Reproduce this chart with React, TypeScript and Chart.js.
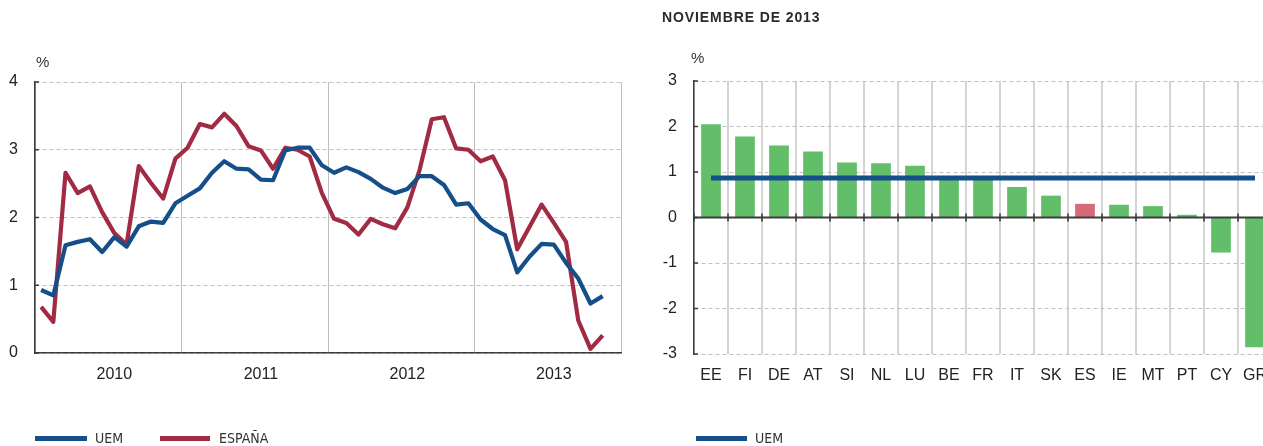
import React, { useEffect, useRef } from 'react';
import { Chart, registerables } from 'chart.js';

Chart.register(...registerables);

// ---- Data (left panel: monthly, Jan 2010 – Nov 2013) ----
const years = ['2010', '2011', '2012', '2013'];
const uem = [
  0.93, 0.85, 1.59, 1.64, 1.68, 1.49, 1.71, 1.57, 1.87, 1.94, 1.92, 2.21,
  2.32, 2.43, 2.66, 2.83, 2.72, 2.71, 2.56, 2.55, 2.99, 3.03, 3.03, 2.77,
  2.66, 2.74, 2.67, 2.57, 2.44, 2.36, 2.42, 2.61, 2.61, 2.48, 2.19, 2.21,
  1.97, 1.83, 1.74, 1.19, 1.42, 1.61, 1.60, 1.33, 1.10, 0.73, 0.84,
];
const espana = [
  0.68, 0.46, 2.66, 2.36, 2.46, 2.08, 1.77, 1.60, 2.76, 2.51, 2.28, 2.87,
  3.03, 3.38, 3.33, 3.53, 3.35, 3.05, 2.99, 2.72, 3.03, 3.0, 2.9, 2.36,
  1.98, 1.92, 1.75, 1.98, 1.90, 1.84, 2.15, 2.70, 3.45, 3.48, 3.02, 3.0,
  2.83, 2.9, 2.55, 1.53, 1.86, 2.19, 1.92, 1.64, 0.48, 0.06, 0.26,
];

// ---- Data (right panel: November 2013 by country) ----
const countries = ['EE', 'FI', 'DE', 'AT', 'SI', 'NL', 'LU', 'BE', 'FR', 'IT', 'SK', 'ES', 'IE', 'MT', 'PT', 'CY', 'GR'];
const countryValues = [2.05, 1.78, 1.58, 1.45, 1.21, 1.19, 1.14, 0.9, 0.85, 0.67, 0.48, 0.30, 0.28, 0.25, 0.06, -0.77, -2.85];
const highlightCountry = 'ES';
const uemNov2013 = 0.87;

const leftYTicks = [0, 1, 2, 3, 4];
const rightYTicks = [-3, -2, -1, 0, 1, 2, 3];

const FONT = "'Liberation Sans', Arial, Helvetica, sans-serif";
const NARROW = "'Liberation Sans Narrow', 'DejaVu Sans Condensed', 'Liberation Sans', sans-serif";
const BLUE = '#144F89';
const RED = '#A02B43';
const GREEN = '#63BE6A';
const PINK = '#D66A78';
const AXIS = '#3c3c3c';
const TEXT = '#222';

// small inward tick marks on the y axis (+ optional zero line with ticks)
const axisDecor = (zeroLine: boolean) => ({
  id: 'axisDecor' + (zeroLine ? 'Z' : ''),
  afterDatasetsDraw(chart: any) {
    const { ctx, chartArea, scales } = chart;
    const y = scales.y;
    const x = scales.x;
    ctx.save();
    ctx.strokeStyle = AXIS;
    ctx.lineWidth = 1.5;
    y.ticks.forEach((t: any) => {
      const py = y.getPixelForValue(t.value);
      ctx.beginPath();
      ctx.moveTo(chartArea.left, py);
      ctx.lineTo(chartArea.left + 4, py);
      ctx.stroke();
    });
    if (zeroLine) {
      const pz = y.getPixelForValue(0);
      ctx.lineWidth = 1.8;
      ctx.beginPath();
      ctx.moveTo(chartArea.left, pz);
      ctx.lineTo(chartArea.right, pz);
      ctx.stroke();
      ctx.lineWidth = 1.6;
      for (let i = 0; i <= x.ticks.length; i++) {
        const px = x.getPixelForValue(i - 0.5);
        ctx.beginPath();
        ctx.moveTo(px, pz - 4);
        ctx.lineTo(px, pz + 4);
        ctx.stroke();
      }
    }
    ctx.restore();
  },
});

function LeftChart() {
  const ref = useRef<HTMLCanvasElement>(null);
  useEffect(() => {
    const boundaries = years.map((_, i) => i * 12 - 0.5).concat([years.length * 12 - 0.5]);
    const labelPos = years.map((_, i) => i * 12 + 6);
    const allTicks = [...boundaries, ...labelPos].sort((a, b) => a - b);
    const chart = new Chart(ref.current!, {
      type: 'line',
      data: {
        datasets: [
          {
            label: 'UEM',
            data: uem.map((v, i) => ({ x: i, y: v })),
            borderColor: BLUE,
            borderWidth: 4.2,
            pointRadius: 0,
            tension: 0,
            borderJoinStyle: 'round',
          },
          {
            label: 'ESPAÑA',
            data: espana.map((v, i) => ({ x: i, y: v })),
            borderColor: RED,
            borderWidth: 4.2,
            pointRadius: 0,
            tension: 0,
            borderJoinStyle: 'round',
          },
        ],
      },
      options: {
        animation: false,
        responsive: false,
        events: [],
        layout: { padding: { left: 0, top: 82, right: 19, bottom: 0 } },
        plugins: { legend: { display: false }, tooltip: { enabled: false }, title: { display: false } },
        scales: {
          x: {
            type: 'linear',
            min: -0.5,
            max: years.length * 12 - 0.5,
            afterBuildTicks: (s: any) => {
              s.ticks = allTicks.map((v) => ({ value: v }));
            },
            afterFit: (s: any) => {
              s.height = 93;
            },
            ticks: {
              autoSkip: false,
              maxRotation: 0,
              padding: 12,
              color: TEXT,
              font: { family: FONT, size: 16 },
              callback: (v: any) => {
                const idx = labelPos.indexOf(Number(v));
                return idx >= 0 ? years[idx] : '';
              },
            },
            grid: {
              drawTicks: false,
              lineWidth: 1,
              color: (c: any) => (c.tick && boundaries.includes(c.tick.value) ? '#bdbdbd' : 'rgba(0,0,0,0)'),
            },
            border: { display: true, color: AXIS, width: 1.5 },
          },
          y: {
            min: 0,
            max: 4,
            afterBuildTicks: (s: any) => {
              s.ticks = leftYTicks.map((v) => ({ value: v }));
            },
            afterFit: (s: any) => {
              s.width = 35;
            },
            ticks: { padding: 17, color: TEXT, font: { family: FONT, size: 16 } },
            grid: { drawTicks: false, color: '#c0c0c0', lineWidth: 1 },
            border: { display: true, color: AXIS, width: 1.5, dash: [4, 3] },
          },
        },
      },
      plugins: [axisDecor(false)],
    } as any);
    return () => chart.destroy();
  }, []);
  return <canvas ref={ref} width={640} height={446} style={{ position: 'absolute', left: 0, top: 0, width: 640, height: 446 }} />;
}

function RightChart() {
  const ref = useRef<HTMLCanvasElement>(null);
  useEffect(() => {
    const chart = new Chart(ref.current!, {
      type: 'bar',
      data: {
        labels: countries,
        datasets: [
          {
            type: 'line',
            label: 'UEM',
            data: countries.map(() => uemNov2013),
            borderColor: BLUE,
            borderWidth: 5,
            pointRadius: 0,
            borderCapStyle: 'butt',
            order: 0,
          },
          {
            type: 'bar',
            label: 'Países',
            data: countryValues,
            backgroundColor: countries.map((c) => (c === highlightCountry ? PINK : GREEN)),
            borderWidth: 0,
            categoryPercentage: 1,
            barPercentage: 0.58,
            order: 1,
          },
        ],
      },
      options: {
        animation: false,
        responsive: false,
        events: [],
        layout: { padding: { left: 0, top: 81, right: 18, bottom: 0 } },
        plugins: { legend: { display: false }, tooltip: { enabled: false }, title: { display: false } },
        scales: {
          x: {
            afterFit: (s: any) => {
              s.height = 92;
            },
            ticks: {
              autoSkip: false,
              maxRotation: 0,
              padding: 12,
              color: TEXT,
              font: { family: FONT, size: 16 },
            },
            grid: { drawTicks: false, color: '#d4d4d4', lineWidth: 2, offset: true },
            border: { display: false },
          },
          y: {
            min: -3,
            max: 3,
            afterBuildTicks: (s: any) => {
              s.ticks = rightYTicks.map((v) => ({ value: v }));
            },
            afterFit: (s: any) => {
              s.width = 54;
            },
            ticks: { padding: 17, color: TEXT, font: { family: FONT, size: 16 } },
            grid: { drawTicks: false, color: '#c0c0c0', lineWidth: 1 },
            border: { display: true, color: AXIS, width: 1.5, dash: [4, 3] },
          },
        },
      },
      plugins: [axisDecor(true)],
    } as any);
    return () => chart.destroy();
  }, []);
  return <canvas ref={ref} width={650} height={446} style={{ position: 'absolute', left: 640, top: 0, width: 650, height: 446 }} />;
}

const abs = (s: React.CSSProperties): React.CSSProperties => ({ position: 'absolute', ...s });

function LegendItem({ x, lineW, textX, color, label }: { x: number; lineW: number; textX: number; color: string; label: string }) {
  return (
    <>
      <div style={abs({ left: x, top: 436, width: lineW, height: 4.5, background: color })} />
      <div style={abs({ left: textX, top: 430, lineHeight: '16px', fontFamily: NARROW, fontSize: 14, color: '#333', whiteSpace: 'nowrap' })}>{label}</div>
    </>
  );
}

export default function App() {
  return (
    <div style={abs({ left: 0, top: 0, width: 1263, height: 446, overflow: 'hidden', background: '#fff' })}>
      <LeftChart />
      <RightChart />
      <div style={abs({ left: 662, top: 8, fontFamily: FONT, fontWeight: 'bold', fontSize: 14, letterSpacing: '0.9px', color: '#2a2a2a', lineHeight: '18px', whiteSpace: 'nowrap' })}>
        NOVIEMBRE DE 2013
      </div>
      <div style={abs({ left: 36, top: 53, fontFamily: FONT, fontSize: 15, color: '#333', lineHeight: '18px' })}>%</div>
      <div style={abs({ left: 691, top: 49, fontFamily: FONT, fontSize: 15, color: '#333', lineHeight: '18px' })}>%</div>
      <LegendItem x={35} lineW={52} textX={95} color={BLUE} label="UEM" />
      <LegendItem x={160} lineW={50} textX={219} color={RED} label="ESPAÑA" />
      <LegendItem x={696} lineW={51} textX={755} color={BLUE} label="UEM" />
    </div>
  );
}
